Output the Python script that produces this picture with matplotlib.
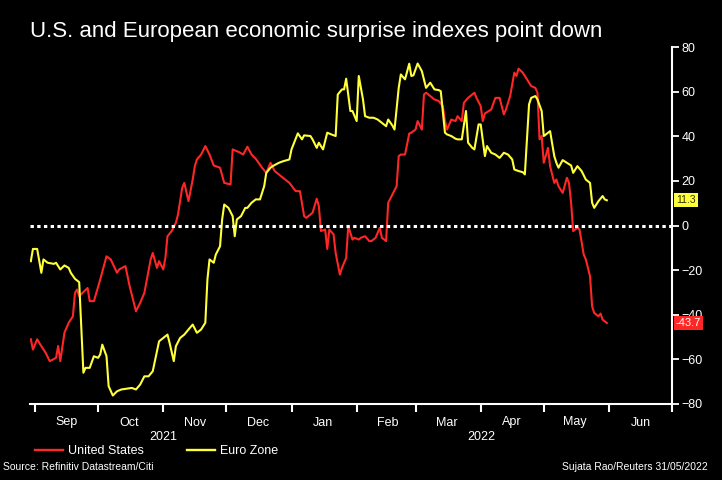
import datetime as dt
import matplotlib
matplotlib.use("Agg")
import matplotlib.pyplot as plt
import matplotlib.dates as mdates
from matplotlib.lines import Line2D
from matplotlib.transforms import blended_transform_factory

plt.rcParams['font.family'] = ['Liberation Sans', 'DejaVu Sans']

# day offsets from 1 Sep 2021
start = dt.date(2021, 9, 1)

us_days = [-2, -1, 1, 2, 5, 7, 10, 11, 12, 14,
           16, 18, 19, 20, 21, 25, 26, 28, 31, 34,
           36, 39, 40, 43, 45, 48, 50, 52, 55, 56,
           58, 59, 61, 62, 63, 65, 67, 68, 70, 71,
           73, 75, 76, 77, 79, 81, 83, 85, 88, 90,
           93, 94, 97, 99, 101, 103, 105, 108, 110, 112,
           114, 117, 121, 124, 126, 128, 129, 132, 134, 135,
           136, 138, 139, 140, 142, 143, 145, 146, 148, 149,
           151, 152, 154, 155, 157, 159, 160, 162, 164, 165,
           167, 168, 170, 172, 173, 174, 176, 178, 179, 181,
           182, 184, 185, 186, 188, 190, 192, 194, 195, 196,
           198, 200, 201, 203, 204, 206, 209, 210, 212, 213,
           214, 217, 219, 221, 223, 224, 226, 228, 229, 230,
           232, 233, 235, 236, 238, 239, 240, 241, 242, 244,
           245, 247, 248, 249, 251, 253, 254, 255, 256, 258,
           259, 261, 262, 264, 265, 266, 268, 269, 270, 272]
us_vals = [-51, -55.6, -51, -52.6, -57, -60.8, -59.3, -54, -60.8, -48,
           -43.6, -40.7, -30.2, -28.7, -31.7, -28, -33.9, -33.9, -24.2, -13.8,
           -15.2, -21.2, -19.7, -18.2, -27.2, -38.4, -34.7, -30.2, -15.2, -12.3,
           -19, -16, -19.7, -14.5, -4.8, -2.5, 1.2, 4.9, 16.9, 19.1,
           10.9, 20.6, 26.6, 29.6, 31.8, 35.6, 31.8, 26.9, 25.9, 19.1,
           18.4, 34.1, 32.9, 31.8, 35.3, 31.8, 29.9, 25.9, 23.6, 28.1,
           24.4, 22.1, 19.1, 15.4, 15.4, 4.2, 3.4, 5.7, 12, 8.7,
           -2.5, -1.8, -10.5, -1.8, -4, -12.3, -22, -19, -14.5, -0.3,
           -6.3, -5.5, -6.3, -5.5, -4.8, -7, -7, -5.5, -1, -5.5,
           -7, 10.2, 13.9, 17.6, 31.1, 31.8, 31.8, 41.2, 41.6, 43,
           46.8, 43, 58.7, 59.5, 58, 56.5, 55.8, 53.5, 46.8, 43,
           47.5, 46.8, 49, 46.8, 55, 57.2, 59.5, 57.2, 53.5, 46.8,
           50.2, 52, 57.2, 57.2, 49.8, 52, 58, 68.5, 67, 70.3,
           68.5, 67, 64, 62.5, 61.7, 59.5, 38.6, 40.1, 28.1, 34.8,
           26.6, 19.1, 20.6, 17.6, 14.6, 21.4, 19.1, 10.2, -2.5, -1,
           -1.8, -13, -15.2, -22.7, -36.2, -39.2, -40.7, -39.5, -42.2, -43.7]

ez_days = [-2, -1, 1, 3, 4, 6, 9, 10, 12, 14,
           16, 17, 19, 21, 23, 24, 26, 28, 30, 31,
           32, 34, 35, 37, 39, 41, 43, 46, 48, 50,
           52, 54, 56, 58, 59, 61, 63, 64, 66, 67,
           69, 71, 73, 75, 77, 79, 81, 82, 83, 85,
           86, 88, 89, 90, 92, 94, 95, 96, 98, 100,
           101, 103, 105, 107, 109, 110, 112, 113, 116, 118,
           121, 122, 125, 127, 128, 131, 132, 134, 135, 136,
           137, 139, 141, 143, 144, 146, 147, 148, 150, 151,
           153, 154, 156, 157, 159, 161, 163, 165, 167, 168,
           170, 171, 173, 174, 176, 178, 179, 180, 182, 184,
           185, 186, 188, 190, 192, 193, 195, 196, 198, 200,
           201, 203, 205, 206, 208, 209, 211, 212, 214, 215,
           217, 219, 221, 223, 225, 227, 228, 230, 232, 233,
           234, 235, 236, 238, 239, 241, 242, 243, 245, 247,
           248, 249, 251, 253, 255, 256, 258, 260, 262, 264,
           265, 266, 268, 270, 271, 272]
ez_vals = [-16, -10.5, -10.5, -21.2, -15.2, -16.7, -17.2, -16.7, -19.7, -17.9,
           -19, -21.2, -23.9, -25.4, -66, -63.8, -63.8, -58.6, -59.3, -57.8,
           -53.4, -58.6, -72, -76.2, -74.3, -73.5, -73.2, -72.8, -73.5, -71.3,
           -67.6, -67.6, -65.3, -56.4, -51.9, -50.4, -48.9, -52.6, -60.8, -54.1,
           -50.4, -48.9, -46.6, -44.4, -48.1, -46.6, -43.6, -24.2, -15.2, -16.7,
           -13, -9.3, 2.7, 9.4, 7.9, 4.2, -4.8, 2.7, 4.2, 7.9,
           7.9, 10.2, 11.7, 11.7, 17.6, 23.6, 25.9, 26.6, 28.1, 28.8,
           29.6, 34.1, 41.3, 38.6, 40.4, 40.1, 38.6, 34.8, 37.1, 35.6,
           34.1, 41.6, 40.8, 40.1, 58.7, 61, 61, 65.8, 51.3, 51.3,
           46.8, 67, 56.5, 49, 48.3, 48.3, 47.5, 46, 44.5, 47.5,
           44.8, 43, 61.7, 67.7, 65.5, 72.5, 67, 67.3, 72.6, 69.2,
           65.5, 61.7, 64, 61, 60.7, 60.2, 41.6, 40.8, 40.1, 38.9,
           38.6, 38.6, 51.3, 37.1, 34.8, 34.1, 45.3, 45.3, 31.1, 35.6,
           32.6, 31.8, 30.3, 32.6, 31.8, 29.6, 25.1, 24.4, 23.9, 22.9,
           38.6, 54.3, 57.2, 58, 56.5, 51.3, 40.1, 40.8, 42.3, 31.1,
           28.1, 25.9, 29.3, 28.1, 26.9, 23.6, 26.6, 24.4, 20.6, 19.1,
           10.2, 7.9, 10.9, 13.2, 11.7, 11.3]

years = ['2021', '2022']
year_spans = [(dt.date(2021, 9, 1), dt.date(2022, 1, 1)), (dt.date(2022, 1, 1), dt.date(2022, 7, 1))]

RED = '#ff2626'
YELLOW = '#ffff3a'

us_dates = [start + dt.timedelta(days=d) for d in us_days]
ez_dates = [start + dt.timedelta(days=d) for d in ez_days]

fig = plt.figure(figsize=(7.22, 4.8), dpi=100, facecolor='black')
ax = fig.add_axes([30 / 722, 76 / 480, 642 / 722, 357 / 480])
ax.set_facecolor('black')

ax.plot(us_dates, us_vals, color=RED, lw=1.5, solid_joinstyle='round')
ax.plot(ez_dates, ez_vals, color=YELLOW, lw=1.5, solid_joinstyle='round')
ax.axhline(0, color='white', lw=2.2, ls=(0, (1.1, 1.1)))

ax.set_xlim(mdates.date2num(start) - 2.4, mdates.date2num(dt.date(2022, 7, 1)))
ax.set_ylim(-80, 80)

for s in ['left', 'top']:
    ax.spines[s].set_visible(False)
for s in ['right', 'bottom']:
    ax.spines[s].set_color('white')
    ax.spines[s].set_linewidth(1.5)

ax.yaxis.tick_right()
ax.set_yticks(range(-80, 81, 20))
ax.tick_params(axis='y', colors='white', length=5, width=1.3, labelsize=9, pad=2)

ax.xaxis.set_major_locator(mdates.MonthLocator())
ax.xaxis.set_major_formatter(plt.NullFormatter())
ax.xaxis.set_minor_locator(mdates.MonthLocator(bymonthday=16))
ax.xaxis.set_minor_formatter(mdates.DateFormatter('%b'))
ax.tick_params(axis='x', which='major', colors='white', length=6, width=1.5)
ax.tick_params(axis='x', which='minor', colors='white', length=0, labelsize=9, pad=9)

trans = blended_transform_factory(ax.transData, ax.transAxes)
for yr, (a, b) in zip(years, year_spans):
    mid = (mdates.date2num(a) + mdates.date2num(b)) / 2
    ax.text(mid, -0.093, yr, transform=trans, color='white', fontsize=9,
            ha='center', va='center')

# last value tags
tag = blended_transform_factory(ax.transAxes, ax.transData)
ax.text(1.006, ez_vals[-1], f'{ez_vals[-1]:.1f}', transform=tag, color='#333300',
        fontsize=7.5, va='center', ha='left', zorder=5,
        bbox=dict(boxstyle='square,pad=0.2', fc=YELLOW, ec='none'))
ax.text(1.006, us_vals[-1], f'{us_vals[-1]:.1f}', transform=tag, color='white',
        fontsize=8, va='center', ha='left', zorder=5,
        bbox=dict(boxstyle='square,pad=0.2', fc=RED, ec='none'))

fig.text(30 / 722, 1 - 32 / 480, 'U.S. and European economic surprise indexes point down',
         color='white', fontsize=16, va='center', ha='left')

handles = [Line2D([], [], color=RED, lw=1.7), Line2D([], [], color=YELLOW, lw=1.7)]
fig.legend(handles, ['United States', 'Euro Zone'], loc='center left',
           bbox_to_anchor=(35 / 722, 1 - 451 / 480), ncol=2, frameon=False,
           fontsize=9, labelcolor='white', handlelength=2.2, handletextpad=0.4,
           columnspacing=3.5, borderpad=0, borderaxespad=0)

fig.text(3 / 722, 1 - 467 / 480, 'Source: Refinitiv Datastream/Citi', color='white',
         fontsize=7.5, va='center', ha='left')
fig.text(708 / 722, 1 - 467 / 480, 'Sujata Rao/Reuters 31/05/2022', color='white',
         fontsize=7.5, va='center', ha='right')

fig.savefig('out.png', dpi=100, facecolor='black')
